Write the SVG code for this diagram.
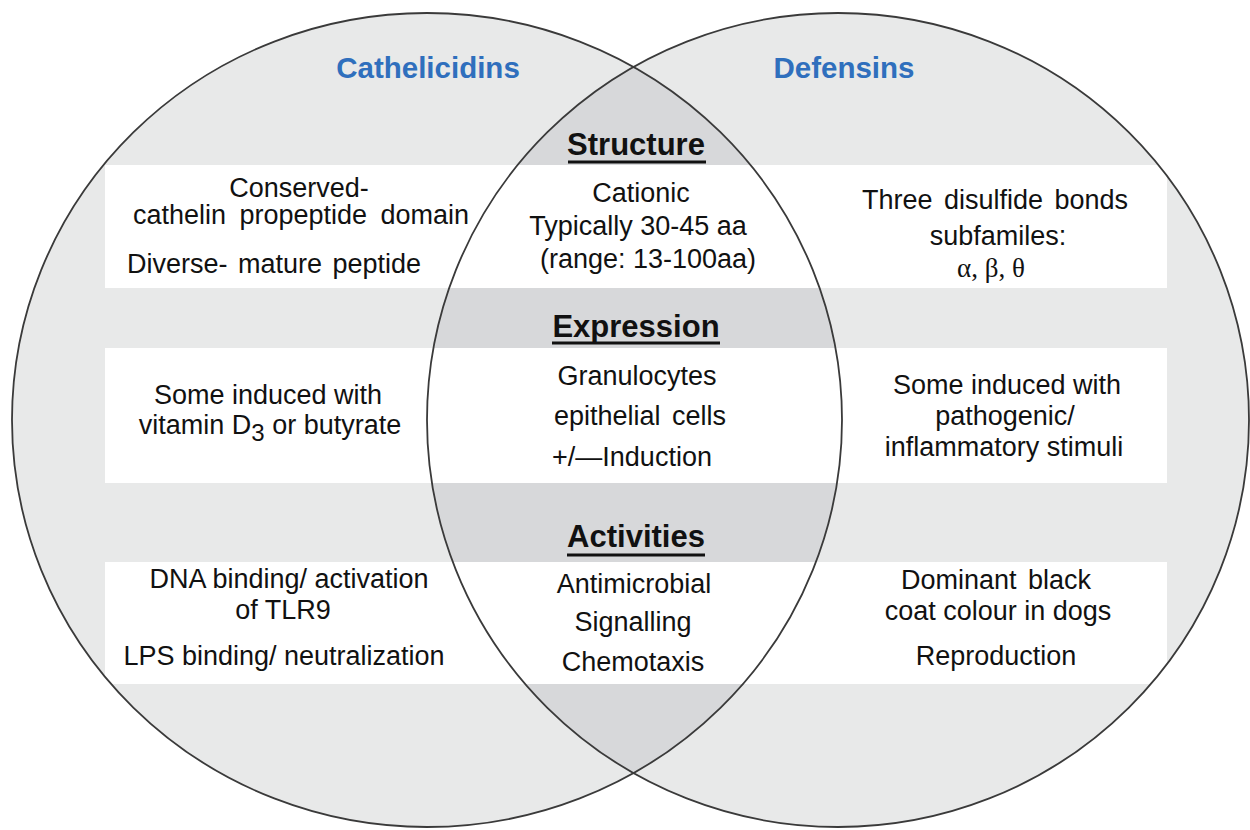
<svg xmlns="http://www.w3.org/2000/svg" width="1250" height="830" viewBox="0 0 1250 830">
<style>
.t{font-family:"Liberation Sans",Arial,sans-serif;font-size:27px;fill:#111;text-anchor:middle}
.h{font-family:"Liberation Sans",Arial,sans-serif;font-size:31px;font-weight:bold;fill:#111;text-anchor:middle}
.ti{font-family:"Liberation Sans",Arial,sans-serif;font-size:29.5px;font-weight:bold;fill:#2f6fbd;text-anchor:middle}
.g{font-family:"Liberation Serif","Times New Roman",serif;font-size:27px;fill:#111;text-anchor:middle}
.ul{stroke:#111;stroke-width:3}
.ol{fill:none;stroke:#3a3a3a;stroke-width:1.8}
</style>
<defs>
<clipPath id="cl"><ellipse cx="427" cy="420" rx="415" ry="407"/></clipPath>
<clipPath id="cu"><ellipse cx="427" cy="420" rx="415" ry="407"/><ellipse cx="838" cy="420" rx="411" ry="407"/></clipPath>
</defs>
<rect width="1250" height="830" fill="#ffffff"/>
<g id="circles">
<ellipse cx="427" cy="420" rx="415" ry="407" fill="#e8e9e9"/>
<ellipse cx="838" cy="420" rx="411" ry="407" fill="#e8e9e9"/>
<ellipse cx="838" cy="420" rx="411" ry="407" fill="#d7d8da" clip-path="url(#cl)"/>
</g>
<g id="rows" clip-path="url(#cu)" fill="#ffffff">
<rect x="105" y="165" width="1062" height="123"/>
<rect x="105" y="348" width="1062" height="135"/>
<rect x="105" y="562" width="1062" height="122"/>
</g>
<g id="outlines">
<ellipse class="ol" cx="427" cy="420" rx="415" ry="407"/>
<ellipse class="ol" cx="838" cy="420" rx="411" ry="407"/>
</g>
<g id="cathelicidins">
<text class="ti" x="428" y="78">Cathelicidins</text>
<text class="t" x="299" y="197">Conserved-</text>
<text class="t" x="301" y="224" word-spacing="6">cathelin propeptide domain</text>
<text class="t" x="274" y="273" word-spacing="3">Diverse- mature peptide</text>
<text class="t" x="268" y="404">Some induced with</text>
<text class="t" x="270" y="434">vitamin D<tspan font-size="24" dy="7">3</tspan><tspan dy="-7"> or butyrate</tspan></text>
<text class="t" x="289" y="588">DNA binding/ activation</text>
<text class="t" x="283" y="619">of TLR9</text>
<text class="t" x="284" y="665">LPS binding/ neutralization</text>
</g>
<g id="defensins">
<text class="ti" x="844" y="78">Defensins</text>
<text class="t" x="995" y="209" word-spacing="4">Three disulfide bonds</text>
<text class="t" x="998" y="245">subfamiles:</text>
<text class="g" x="991" y="277">α, β, θ</text>
<text class="t" x="1007" y="394">Some induced with</text>
<text class="t" x="1005" y="425">pathogenic/</text>
<text class="t" x="1004" y="456">inflammatory stimuli</text>
<text class="t" x="996" y="589" word-spacing="4">Dominant black</text>
<text class="t" x="998" y="620">coat colour in dogs</text>
<text class="t" x="996" y="665">Reproduction</text>
</g>
<g id="shared">
<text class="h" x="636" y="155">Structure</text>
<line class="ul" x1="568" y1="162" x2="706" y2="162"/>
<text class="t" x="641" y="202">Cationic</text>
<text class="t" x="638" y="235">Typically 30-45 aa</text>
<text class="t" x="648" y="268">(range: 13-100aa)</text>
<text class="h" x="636" y="337">Expression</text>
<line class="ul" x1="552" y1="343" x2="720" y2="343"/>
<text class="t" x="637" y="385">Granulocytes</text>
<text class="t" x="640" y="425" word-spacing="4">epithelial cells</text>
<text class="t" x="632" y="466">+/—Induction</text>
<text class="h" x="636" y="547">Activities</text>
<line class="ul" x1="567" y1="555" x2="705" y2="555"/>
<text class="t" x="634" y="593">Antimicrobial</text>
<text class="t" x="633" y="631">Signalling</text>
<text class="t" x="633" y="671">Chemotaxis</text>
</g>
</svg>
